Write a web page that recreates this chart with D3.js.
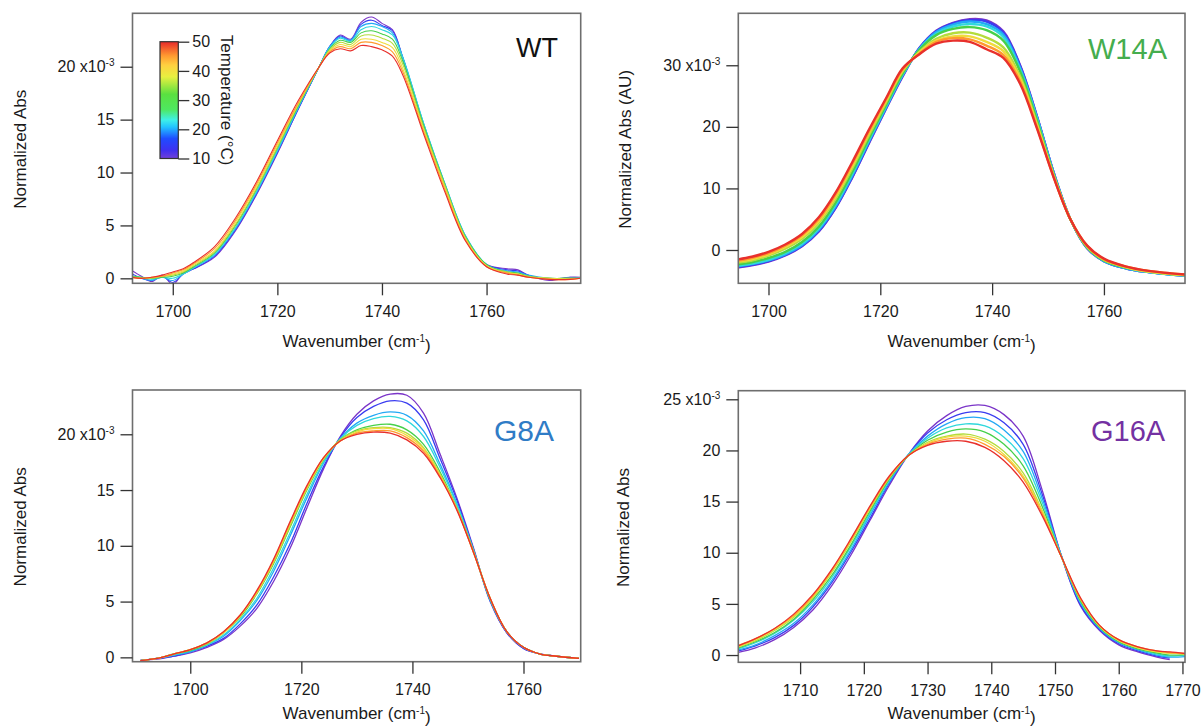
<!DOCTYPE html>
<html><head><meta charset="utf-8">
<script src="https://cdn.jsdelivr.net/npm/d3@7"></script>
<style>
body{margin:0;background:#fff;}
svg{display:block;}
text{font-family:"Liberation Sans",Arial,Helvetica,sans-serif;fill:#1a1a1a;}
</style>
</head><body>
<svg id="chart" width="1203" height="727"></svg>
<script>
// ---------------- DATA ----------------
const temps = [10, 15, 20, 25, 30, 35, 40, 45, 50];
const tempColors = ["#7b35c8", "#3a3cf0", "#22a8f5", "#30d8dc", "#46d04a", "#b4dc3c", "#f0dc3c", "#ff9a2e", "#e8302c"];
const cbarTicks = [10, 20, 30, 40, 50];

// WT
const wtX = [1692,1694,1696,1698,1700,1702,1704,1708,1712,1716,1720,1724,1728,1730,1732,1734,1736,1738,1740,1742,1744,1748,1752,1756,1760,1764,1766,1768,1772,1776,1778];
const wtY = [
 [0.8,0.2,-0.3,0.3,-0.6,0.5,0.9,2.0,4.5,7.9,11.8,16.0,20.0,21.9,23.0,22.6,24.2,24.7,24.1,23.5,20.8,14.4,8.8,3.9,1.3,0.9,0.8,0.3,-0.2,0.1,0.1],
 [0.5,0.0,-0.2,0.2,-0.4,0.4,0.9,2.1,4.6,8.0,11.9,16.0,20.0,21.9,22.9,22.5,24.0,24.4,23.9,23.4,20.8,14.5,8.9,3.9,1.3,0.8,0.7,0.3,-0.1,0.1,0.0],
 [0.3,0.0,-0.2,0.1,-0.2,0.4,1.0,2.2,4.7,8.1,12.0,16.1,20.0,21.9,22.8,22.5,23.8,24.1,23.8,23.2,20.9,14.6,9.0,4.0,1.3,0.7,0.6,0.3,0.0,0.0,0.0],
 [0.2,0.1,-0.1,0.1,0.0,0.4,1.0,2.3,4.8,8.2,12.1,16.2,20.0,21.8,22.7,22.4,23.5,23.8,23.5,23.0,20.8,14.6,9.0,4.0,1.3,0.6,0.5,0.2,0.0,0.0,0.0],
 [0.2,0.1,0.0,0.1,0.2,0.5,1.1,2.4,5.0,8.4,12.3,16.3,20.0,21.7,22.5,22.3,23.2,23.4,23.1,22.6,20.5,14.4,8.9,3.9,1.3,0.6,0.5,0.2,0.0,0.0,0.0],
 [0.2,0.0,0.0,0.2,0.3,0.6,1.2,2.5,5.1,8.5,12.4,16.4,20.0,21.6,22.3,22.1,22.9,23.0,22.7,22.2,20.2,14.2,8.8,3.8,1.2,0.6,0.4,0.2,0.0,0.0,0.0],
 [0.1,0.0,0.1,0.2,0.4,0.7,1.3,2.6,5.3,8.7,12.6,16.5,20.0,21.5,22.1,21.9,22.6,22.6,22.3,21.8,19.8,14.0,8.6,3.7,1.2,0.5,0.4,0.1,0.0,-0.1,0.0],
 [0.1,0.0,0.1,0.2,0.5,0.8,1.4,2.8,5.5,8.9,12.8,16.6,20.0,21.4,21.9,21.7,22.3,22.3,22.0,21.4,19.5,13.8,8.4,3.6,1.1,0.5,0.3,0.1,-0.1,-0.1,0.0],
 [0.1,0.0,0.1,0.3,0.6,0.9,1.5,3.0,5.7,9.1,13.0,16.8,20.0,21.3,21.7,21.5,22.0,21.9,21.6,21.0,19.2,13.6,8.2,3.5,1.1,0.4,0.3,0.1,-0.1,-0.1,0.0]
];

// W14A
const w14aX = [1694,1697,1700,1703,1706,1709,1712,1715,1718,1721,1724,1727,1730,1733,1736,1739,1742,1745,1748,1751,1754,1757,1760,1764,1768,1772,1775];
const w14aY = [
 [-2.9,-2.5,-1.9,-0.9,0.6,3.0,6.8,11.8,17.4,22.9,28.2,32.8,35.6,36.9,37.5,37.3,35.5,30.0,21.8,12.6,5.0,0.3,-1.8,-3.0,-3.6,-4.0,-4.2],
 [-2.8,-2.4,-1.8,-0.8,0.7,3.1,6.9,11.9,17.5,23.0,28.3,32.8,35.5,36.8,37.3,37.1,35.3,29.9,21.7,12.6,5.0,0.3,-1.8,-3.0,-3.6,-4.0,-4.2],
 [-2.7,-2.3,-1.7,-0.7,0.8,3.3,7.1,12.1,17.7,23.1,28.4,32.7,35.4,36.6,37.1,36.7,35.0,29.6,21.6,12.5,5.0,0.4,-1.8,-3.0,-3.6,-4.0,-4.2],
 [-2.6,-2.2,-1.6,-0.5,1.0,3.5,7.4,12.4,17.9,23.3,28.5,32.6,35.1,36.3,36.7,36.3,34.6,29.3,21.4,12.4,5.0,0.4,-1.7,-2.9,-3.6,-4.0,-4.2],
 [-2.4,-2.0,-1.3,-0.3,1.3,3.8,7.7,12.7,18.2,23.5,28.7,32.5,34.9,35.9,36.2,35.7,34.0,29.0,21.1,12.3,5.0,0.4,-1.7,-2.9,-3.5,-3.9,-4.1],
 [-2.1,-1.7,-0.9,0.2,1.8,4.4,8.3,13.3,18.7,23.9,29.0,32.2,34.3,35.2,35.3,34.5,32.9,28.2,20.6,12.1,5.0,0.5,-1.6,-2.8,-3.5,-3.9,-4.1],
 [-1.9,-1.5,-0.7,0.5,2.1,4.7,8.7,13.7,19.1,24.2,29.2,32.1,34.0,34.7,34.7,33.8,32.3,27.8,20.3,12.0,5.0,0.6,-1.5,-2.8,-3.5,-3.9,-4.1],
 [-1.8,-1.3,-0.5,0.7,2.4,5.0,9.0,14.0,19.3,24.4,29.3,31.9,33.8,34.4,34.2,33.2,31.7,27.4,20.0,11.9,5.0,0.7,-1.5,-2.7,-3.4,-3.8,-4.0],
 [-1.6,-1.1,-0.3,0.9,2.6,5.3,9.3,14.3,19.6,24.6,29.5,31.8,33.5,34.0,33.8,32.6,31.2,27.0,19.8,11.8,5.0,0.7,-1.4,-2.7,-3.4,-3.8,-4.0]
];

// G8A
const g8aX = [1691,1694,1697,1700,1703,1706,1709,1712,1715,1718,1721,1724,1727,1730,1733,1736,1739,1742,1745,1748,1751,1754,1757,1760,1763,1766,1770];
const g8aY = [
 [-0.25,-0.15,0.1,0.4,0.9,1.6,2.8,4.4,6.8,9.8,13.4,16.9,19.8,21.8,23.0,23.6,23.5,21.9,18.2,14.3,9.8,5.0,2.2,0.8,0.3,0.1,-0.1],
 [-0.3,-0.1,0.1,0.5,1.0,1.7,3.0,4.7,7.2,10.2,13.8,17.1,19.7,21.5,22.5,23.0,22.8,21.3,17.8,14.1,9.7,5.1,2.2,0.8,0.3,0.1,-0.1],
 [-0.3,-0.1,0.2,0.5,1.1,1.9,3.3,5.1,7.7,10.9,14.3,17.4,19.6,21.0,21.7,22.0,21.7,20.3,17.3,13.8,9.6,5.1,2.3,0.9,0.3,0.1,-0.1],
 [-0.3,-0.1,0.2,0.6,1.1,2.0,3.4,5.3,8.0,11.2,14.6,17.5,19.6,20.8,21.4,21.6,21.2,19.8,17.0,13.7,9.6,5.2,2.3,0.9,0.3,0.1,-0.1],
 [-0.3,-0.1,0.3,0.6,1.2,2.2,3.6,5.7,8.4,11.7,15.0,17.7,19.5,20.4,20.8,20.9,20.4,19.1,16.6,13.4,9.5,5.2,2.3,0.9,0.3,0.1,-0.1],
 [-0.3,-0.1,0.3,0.7,1.2,2.2,3.7,5.8,8.5,11.8,15.1,17.8,19.5,20.3,20.6,20.6,20.1,18.8,16.4,13.4,9.5,5.3,2.3,0.9,0.3,0.1,-0.1],
 [-0.3,-0.1,0.3,0.7,1.3,2.2,3.7,5.8,8.6,12.0,15.2,17.8,19.4,20.2,20.5,20.5,19.9,18.7,16.3,13.3,9.4,5.3,2.3,0.9,0.3,0.1,-0.1],
 [-0.3,-0.1,0.3,0.7,1.3,2.3,3.8,5.9,8.7,12.1,15.3,17.9,19.4,20.1,20.3,20.3,19.7,18.5,16.2,13.3,9.4,5.3,2.3,0.9,0.3,0.1,-0.1],
 [-0.3,-0.1,0.3,0.7,1.3,2.3,3.8,6.0,8.8,12.2,15.4,17.9,19.4,20.0,20.2,20.1,19.5,18.3,16.1,13.2,9.4,5.3,2.3,0.9,0.3,0.1,-0.1]
];

// G16A
const g16aX = [1700.3,1703,1706,1709,1712,1715,1718,1721,1724,1727,1730,1733,1736,1739,1742,1745,1748,1751,1754,1757,1760,1763,1766,1768,1770.4];
const g16aY = [
 [0.25,0.7,1.5,2.7,4.4,6.8,9.8,13.2,16.6,19.6,21.9,23.4,24.3,24.4,23.5,21.4,16.1,9.7,4.8,2.4,1.0,0.3,-0.2,-0.45,null],
 [0.4,0.9,1.7,2.9,4.7,7.1,10.1,13.4,16.8,19.6,21.7,23.0,23.7,23.7,22.7,20.6,15.7,9.7,4.9,2.5,1.1,0.4,-0.1,-0.3,null],
 [0.5,1.0,1.9,3.1,4.9,7.3,10.3,13.7,16.9,19.6,21.4,22.6,23.2,23.1,22.0,19.9,15.3,9.7,5.1,2.6,1.2,0.5,0.0,-0.2,-0.15],
 [0.6,1.2,2.1,3.4,5.2,7.6,10.6,13.9,17.1,19.6,21.2,22.2,22.6,22.4,21.3,19.2,14.9,9.7,5.2,2.7,1.3,0.6,0.1,-0.1,0.0],
 [0.7,1.3,2.2,3.5,5.4,7.8,10.8,14.1,17.2,19.5,21.0,21.8,22.1,21.8,20.6,18.5,14.5,9.6,5.3,2.7,1.3,0.6,0.2,0.0,0.05],
 [0.8,1.4,2.4,3.7,5.6,8.1,11.1,14.3,17.3,19.5,20.8,21.4,21.6,21.1,19.9,17.8,14.1,9.6,5.4,2.8,1.4,0.7,0.3,0.2,0.1],
 [0.8,1.5,2.5,3.8,5.7,8.2,11.2,14.4,17.4,19.5,20.7,21.3,21.4,20.9,19.6,17.5,14.0,9.6,5.5,2.8,1.4,0.7,0.3,0.2,0.1],
 [0.95,1.6,2.6,3.9,5.8,8.3,11.3,14.5,17.4,19.5,20.6,21.1,21.2,20.6,19.4,17.3,13.8,9.6,5.5,2.9,1.5,0.8,0.4,0.25,0.15],
 [0.9,1.6,2.6,4.0,5.9,8.4,11.4,14.6,17.5,19.5,20.5,20.9,20.9,20.3,19.0,16.9,13.6,9.6,5.6,2.9,1.5,0.8,0.4,0.3,0.15]
];

const xTicksA = [1700, 1720, 1740, 1760];
const xTicksB = [1710, 1720, 1730, 1740, 1750, 1760, 1770];
const yTicksWT = [0, 5, 10, 15, 20];
const yTicksW14A = [0, 10, 20, 30];
const yTicksG8A = [0, 5, 10, 15, 20];
const yTicksG16A = [0, 5, 10, 15, 20, 25];

// ---------------- LAYOUT ----------------
const panels = [
  {xs: wtX, ys: wtY, xDom: [1692.3, 1778.0], yDom: [-0.47, 25.05], box: {l: 132.5, r: 580.7, t: 13.3, b: 283.3},
   xTicks: xTicksA, yTicks: yTicksWT, yTitle: "Normalized Abs", yTitleX: 20, xTitleY: 347,
   title: "WT", titleColor: "#111", titleFont: '"Liberation Sans",Arial,sans-serif', titleSize: 27, titleX: 516, titleY: 57, lw: 1.1},
  {xs: w14aX, ys: w14aY, xDom: [1694.6, 1774.5], yDom: [-5.41, 38.44], box: {l: 738.3, r: 1185, t: 13.3, b: 283.3},
   xTicks: xTicksA, yTicks: yTicksW14A, yTitle: "Normalized Abs (AU)", yTitleX: 625, xTitleY: 347,
   title: "W14A", titleColor: "#45ad4e", titleFont: '"Open Sans",sans-serif', titleSize: 29, titleX: 1088, titleY: 59, lw: 2.4},
  {xs: g8aX, ys: g8aY, xDom: [1689.6, 1770.3], yDom: [-0.39, 23.97], box: {l: 132.5, r: 580.7, t: 390, b: 661.7},
   xTicks: xTicksA, yTicks: yTicksG8A, yTitle: "Normalized Abs", yTitleX: 20, xTitleY: 719,
   title: "G8A", titleColor: "#2f7cc6", titleFont: '"Open Sans",sans-serif', titleSize: 30, titleX: 494, titleY: 441, lw: 1.3},
  {xs: g16aX, ys: g16aY, xDom: [1700.3, 1770.4], yDom: [-0.71, 25.84], box: {l: 738.3, r: 1185, t: 390.7, b: 662.3},
   xTicks: xTicksB, yTicks: yTicksG16A, yTitle: "Normalized Abs", yTitleX: 623, xTitleY: 719,
   title: "G16A", titleColor: "#7431a2", titleFont: '"Open Sans",sans-serif', titleSize: 29, titleX: 1091, titleY: 441, lw: 1.3}
];

const svg = d3.select("#chart");
svg.append("rect").attr("width", 1203).attr("height", 727).attr("fill", "#fff");

panels.forEach((p, i) => {
  const b = p.box;
  const x = d3.scaleLinear().domain(p.xDom).range([b.l, b.r]);
  const y = d3.scaleLinear().domain(p.yDom).range([b.b, b.t]);
  const g = svg.append("g");

  const clipId = "clip" + i;
  svg.append("clipPath").attr("id", clipId).append("rect")
    .attr("x", b.l).attr("y", b.t).attr("width", b.r - b.l).attr("height", b.b - b.t);

  const line = d3.line()
    .defined(d => d[1] !== null)
    .x(d => x(d[0])).y(d => y(d[1]))
    .curve(d3.curveCatmullRom.alpha(0.5));

  const lg = g.append("g").attr("clip-path", `url(#${clipId})`);
  p.ys.forEach((series, k) => {
    const pts = p.xs.map((xv, j) => [xv, series[j]]);
    lg.append("path").attr("d", line(pts))
      .attr("fill", "none").attr("stroke", tempColors[k])
      .attr("stroke-width", p.lw).attr("stroke-linejoin", "round");
  });

  // frame
  g.append("rect").attr("x", b.l).attr("y", b.t).attr("width", b.r - b.l).attr("height", b.b - b.t)
    .attr("fill", "none").attr("stroke", "#6e6e6e").attr("stroke-width", 1.6);

  // axes
  const top = p.yTicks[p.yTicks.length - 1];
  const ya = g.append("g").attr("transform", `translate(${b.l},0)`)
    .call(d3.axisLeft(y).tickValues(p.yTicks).tickSize(12).tickPadding(6)
      .tickFormat(d => d === top ? d + " x10" : d));
  ya.select(".domain").remove();
  ya.selectAll(".tick line").attr("stroke", "#333").attr("stroke-width", 1.3);
  ya.selectAll(".tick text").attr("font-size", 16).attr("fill", "#1a1a1a")
    .attr("font-family", '"Liberation Sans",Arial,sans-serif');
  ya.selectAll(".tick").filter(d => d === top).select("text")
    .append("tspan").attr("dy", "-0.6em").attr("font-size", 10).text("-3");

  const xa = g.append("g").attr("transform", `translate(0,${b.b})`)
    .call(d3.axisBottom(x).tickValues(p.xTicks).tickSize(12).tickPadding(10).tickFormat(d3.format("d")));
  xa.select(".domain").remove();
  xa.selectAll(".tick line").attr("stroke", "#333").attr("stroke-width", 1.3);
  xa.selectAll(".tick text").attr("font-size", 16).attr("fill", "#1a1a1a")
    .attr("font-family", '"Liberation Sans",Arial,sans-serif');

  // x title
  const xt = g.append("text").attr("x", (b.l + b.r) / 2).attr("y", p.xTitleY)
    .attr("text-anchor", "middle").attr("font-size", 17);
  xt.append("tspan").text("Wavenumber (cm");
  xt.append("tspan").attr("dy", "-0.55em").attr("font-size", 10).text("-1");
  xt.append("tspan").attr("dy", "0.55em").text(")");

  // y title
  g.append("text").attr("transform", `translate(${p.yTitleX},${(b.t + b.b) / 2 + 1}) rotate(-90)`)
    .attr("text-anchor", "middle").attr("dy", "0.35em").attr("font-size", 17).text(p.yTitle);

  // panel title
  g.append("text").attr("x", p.titleX).attr("y", p.titleY)
    .attr("font-family", p.titleFont).attr("font-size", p.titleSize)
    .style("fill", p.titleColor).text(p.title);
});

// ---------------- COLORBAR (WT panel) ----------------
const cb = {l: 160, r: 178.3, t: 41.7, b: 158.5};
const cy = d3.scaleLinear().domain([10, 50]).range([cb.b, cb.t]);
const defs = svg.append("defs");
const grad = defs.append("linearGradient").attr("id", "rainbow")
  .attr("x1", 0).attr("y1", 1).attr("x2", 0).attr("y2", 0);
const gradStops = [
  [0, "#7040d8"], [0.07, "#3f30f0"], [0.17, "#1f4cff"], [0.27, "#22c4ff"], [0.33, "#3ef0e8"],
  [0.42, "#4ee860"], [0.55, "#5ae040"], [0.7, "#e8f040"], [0.8, "#ffd040"], [0.88, "#ff9a30"], [1, "#e82a2a"]
];
gradStops.forEach(s => grad.append("stop").attr("offset", s[0]).attr("stop-color", s[1]));
svg.append("rect").attr("x", cb.l).attr("y", cb.t).attr("width", cb.r - cb.l).attr("height", cb.b - cb.t)
  .attr("fill", "url(#rainbow)").attr("stroke", "#333").attr("stroke-width", 1.2);
const ca = svg.append("g").attr("transform", `translate(${cb.r},0)`)
  .call(d3.axisRight(cy).tickValues(cbarTicks).tickSize(11).tickPadding(3));
ca.select(".domain").remove();
ca.selectAll(".tick line").attr("stroke", "#333").attr("stroke-width", 1.3);
ca.selectAll(".tick text").attr("font-size", 16).attr("fill", "#1a1a1a")
  .attr("font-family", '"Liberation Sans",Arial,sans-serif');
svg.append("text").attr("transform", `translate(227,${(cb.t + cb.b) / 2}) rotate(90)`)
  .attr("text-anchor", "middle").attr("dy", "0.35em").attr("font-size", 17).text("Temperature (°C)");
</script>
</body></html>
